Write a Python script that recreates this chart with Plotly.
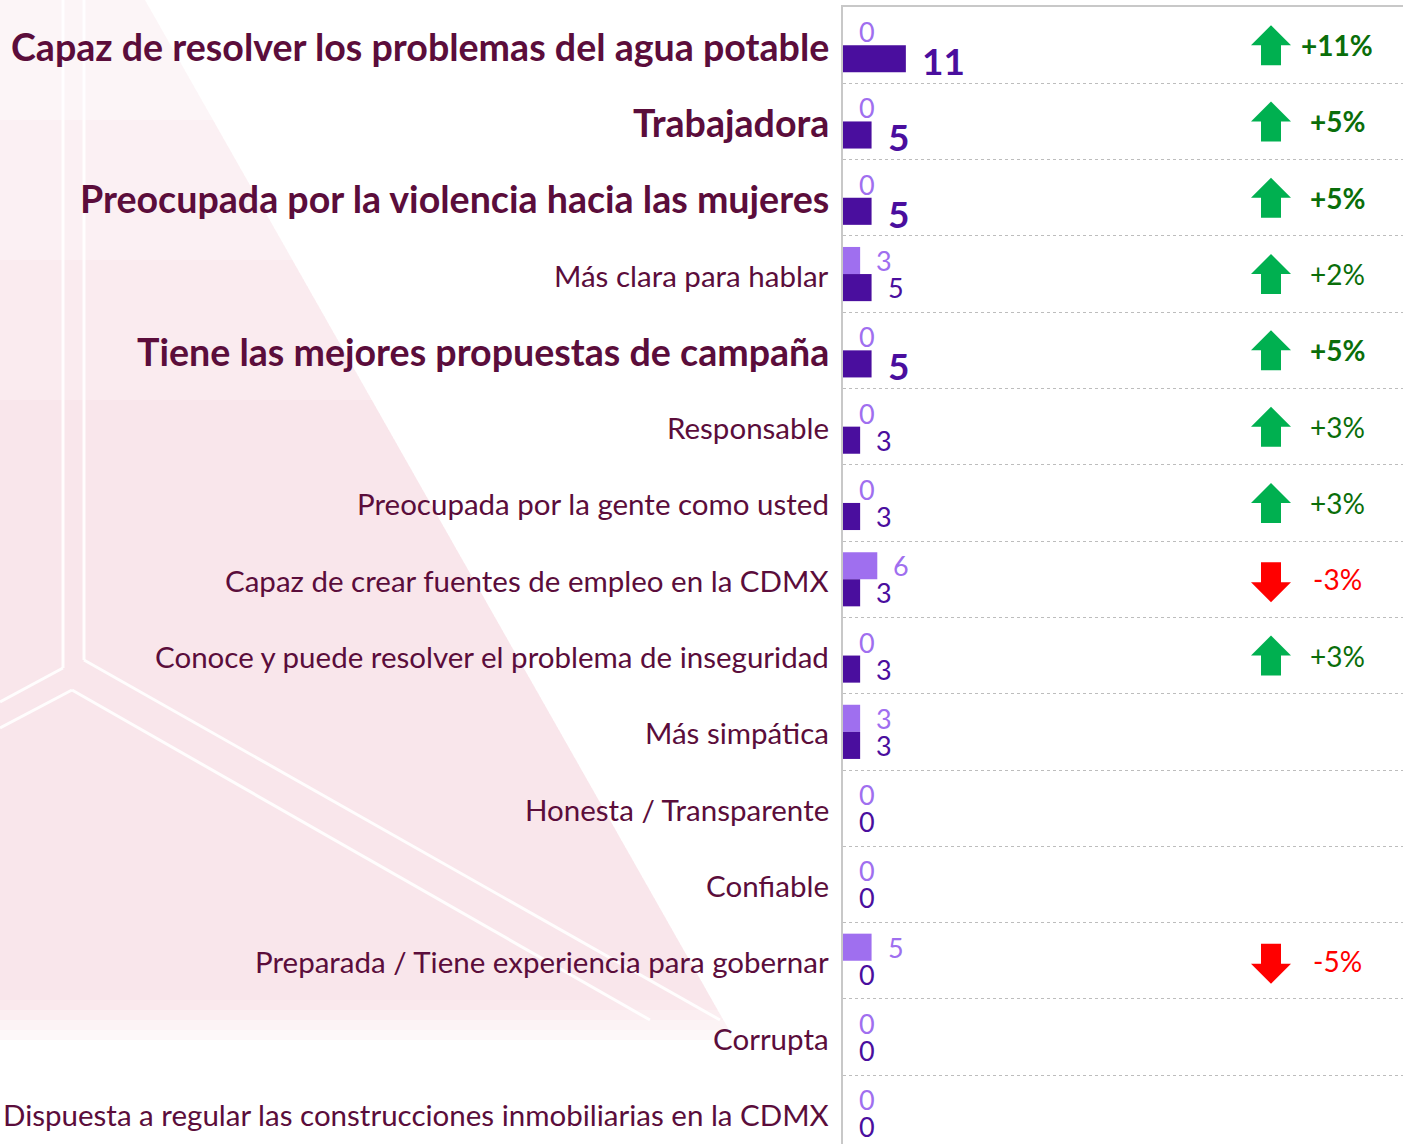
import plotly.graph_objects as go

# ---------------- data ----------------
categories = [
    "Capaz de resolver los problemas del agua potable",
    "Trabajadora",
    "Preocupada por la violencia hacia las mujeres",
    "Más clara para hablar",
    "Tiene las mejores propuestas de campaña",
    "Responsable",
    "Preocupada por la gente como usted",
    "Capaz de crear fuentes de empleo en la CDMX",
    "Conoce y puede resolver el problema de inseguridad",
    "Más simpática",
    "Honesta / Transparente",
    "Confiable",
    "Preparada / Tiene experiencia para gobernar",
    "Corrupta",
    "Dispuesta a regular las construcciones inmobiliarias en la CDMX",
]
previous = [0, 0, 0, 3, 0, 0, 0, 6, 0, 3, 0, 0, 5, 0, 0]
current = [11, 5, 5, 5, 5, 3, 3, 3, 3, 3, 0, 0, 0, 0, 0]
change = [11, 5, 5, 2, 5, 3, 3, -3, 3, 0, 0, 0, -5, 0, 0]
highlight = [True, True, True, False, True, False, False, False, False,
             False, False, False, False, False, False]

# ---------------- style ----------------
W, H = 1403, 1144
ML, MT = 843, 7
PW, PH = W - ML, H - MT
ROW_PX = 76.3
FONT = "Lato"
LIGHT = "#9F6FEF"
DARK = "#4A0E9E"
LABEL = "#5B0D3B"
GREEN = "#00B050"
GREEN_TXT = "#0A6E0A"
RED = "#FF0000"

n = len(categories)
ypos = list(range(n))
rows_visible = PH / ROW_PX

fig = go.Figure()
fig.add_trace(go.Bar(y=ypos, x=previous, orientation="h", marker_color=LIGHT,
                     marker_line_width=0, name="Anterior", hoverinfo="x"))
fig.add_trace(go.Bar(y=ypos, x=current, orientation="h", marker_color=DARK,
                     marker_line_width=0, name="Actual", hoverinfo="x"))

bar_half_px = (1 - 0.29) / 2 * ROW_PX / 2

ann = []
for i, (cat, p, c, ch, hl) in enumerate(zip(categories, previous, current, change, highlight)):
    # category label
    ann.append(dict(x=-12 / PW, xref="paper", y=i, yref="y", text=cat,
                    xanchor="right", yanchor="middle", showarrow=False, yshift=-1,
                    font=dict(family=FONT, size=37.6 if hl else 29.5, color=LABEL,
                              weight="bold" if hl else "normal")))
    # previous value label
    ann.append(dict(x=p, xref="x", y=i, yref="y", text=str(p), xanchor="left",
                    yanchor="middle", showarrow=False, xshift=14, yshift=bar_half_px,
                    font=dict(family=FONT, size=27, color=LIGHT)))
    # current value label
    ann.append(dict(x=c, xref="x", y=i, yref="y", text=str(c), xanchor="left",
                    yanchor="middle", showarrow=False, xshift=14,
                    yshift=-bar_half_px - (2 if hl else 0),
                    font=dict(family=FONT, size=37 if hl else 27, color=DARK,
                              weight="bold" if hl else "normal")))
    # change
    if ch != 0:
        txt = ("+" if ch > 0 else "") + f"{ch}%"
        ann.append(dict(x=(1337 - ML) / PW, xref="paper", y=i, yref="y", text=txt,
                        xanchor="center", yanchor="middle", showarrow=False,
                        font=dict(family=FONT, size=28,
                                  color=GREEN_TXT if ch > 0 else RED,
                                  weight="bold" if hl else "normal")))

# arrow shapes
shapes = []
cx = (1271 - ML) / PW
hw = 20 / PW
sw = 10 / PW
ah = 20 / ROW_PX
for i, ch in enumerate(change):
    if ch == 0:
        continue
    if ch > 0:
        tip, base, end = i - ah, i, i + ah
    else:
        tip, base, end = i + ah + 0.04, i + 0.04, i - ah + 0.04
    path = (f"M {cx - hw},{base} L {cx},{tip} L {cx + hw},{base} L {cx + sw},{base} "
            f"L {cx + sw},{end} L {cx - sw},{end} L {cx - sw},{base} Z")
    shapes.append(dict(type="path", path=path, xref="paper", yref="y",
                       fillcolor=GREEN if ch > 0 else RED, line_width=0))


# decorative watermark (pixel helpers)
def px(x):
    return (x - ML) / PW


def py(y):
    return 1 - (y - MT) / PH


def poly(points):
    return "M " + " L ".join(f"{px(a)},{py(b)}" for a, b in points) + " Z"


def edge(y):
    return 145 + 0.567 * y


for y0, y1, a in [(0, 1040, 0.05), (120, 1030, 0.035), (260, 1020, 0.035),
                  (400, 1010, 0.03), (0, 1000, 0.02)]:
    shapes.append(dict(type="path",
                       path=poly([(0, y0), (edge(y0), y0), (edge(y1), y1), (0, y1)]),
                       xref="paper", yref="paper", fillcolor=f"rgba(225,110,135,{a})",
                       line_width=0, layer="below"))
for seg in [[(63, 0), (63, 668)], [(84, 0), (84, 660)],
            [(84, 660), (720, 1020)], [(72, 690), (650, 1020)],
            [(63, 668), (0, 702)], [(72, 690), (0, 728)]]:
    (x0, y0), (x1, y1) = seg
    shapes.append(dict(type="line", x0=px(x0), y0=py(y0), x1=px(x1), y1=py(y1),
                       xref="paper", yref="paper",
                       line=dict(color="rgba(255,255,255,0.9)", width=3),
                       layer="below"))

fig.update_layout(
    width=W, height=H,
    margin=dict(l=ML, r=0, t=MT, b=0, pad=0),
    paper_bgcolor="white", plot_bgcolor="rgba(0,0,0,0)",
    barmode="group", bargap=0.29, bargroupgap=0,
    showlegend=False,
    annotations=ann, shapes=shapes,
    font=dict(family=FONT),
    xaxis=dict(range=[0, 98], showgrid=False, zeroline=False, showticklabels=False,
               ticks="", side="top", showline=True, linecolor="#C8C8C8", linewidth=2,
               fixedrange=True),
    yaxis=dict(range=[-0.5 + rows_visible, -0.5], tickvals=[i + 0.5 for i in range(n - 1)],
               showticklabels=False, ticks="", showgrid=True, gridcolor="#BDBDBD",
               gridwidth=1, griddash="dot", zeroline=False, showline=True,
               linecolor="#C8C8C8", linewidth=2, fixedrange=True),
)

fig.write_html("out.html", config={"displayModeBar": False},
               post_script="document.body.style.margin='0';")
